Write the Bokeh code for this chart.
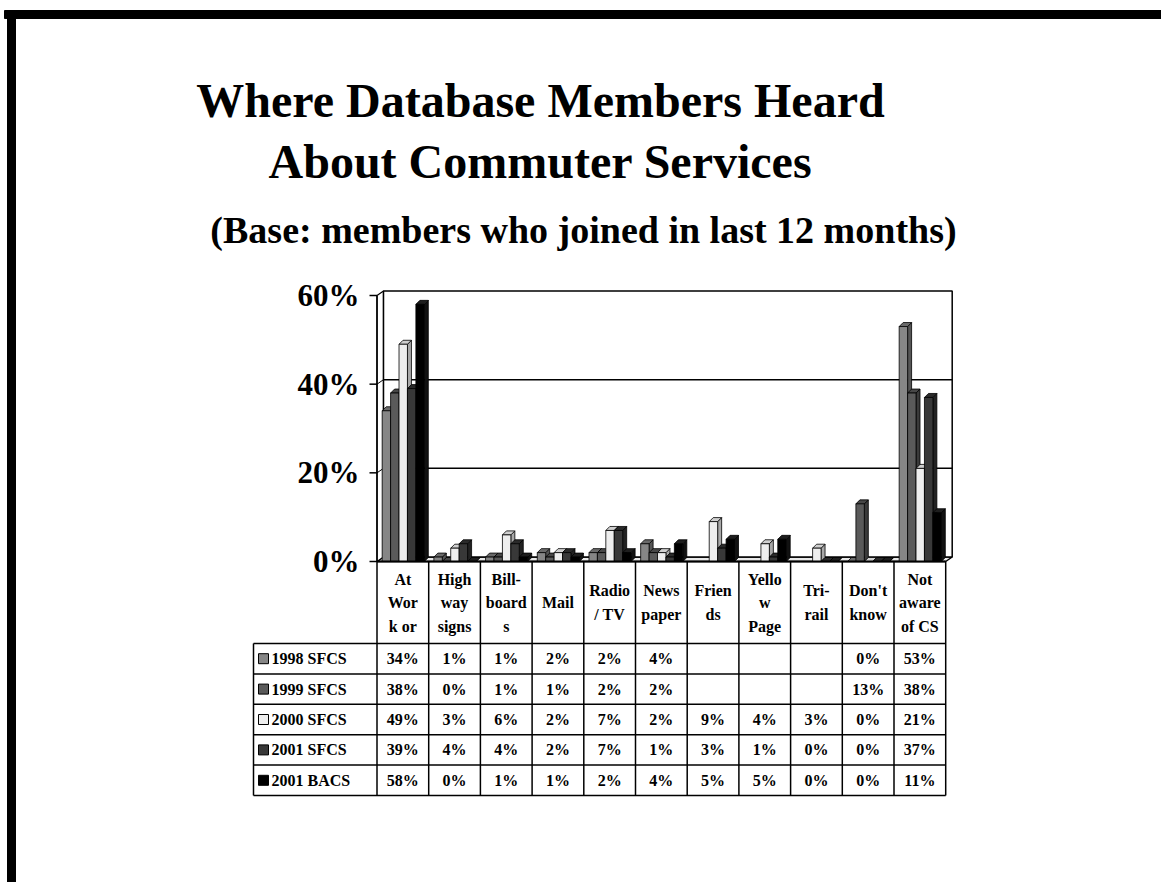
from bokeh.plotting import figure
from bokeh.models import Range1d
from bokeh.core.properties import value
from bokeh.embed import file_html
from bokeh.resources import INLINE

# ---------------- data ----------------
categories = ["At Work or", "Highway signs", "Billboards", "Mail", "Radio / TV",
              "Newspaper", "Friends", "Yellow Page", "Tri-rail", "Don't know", "Not aware of CS"]
header_lines = [["At", "Wor", "k or"], ["High", "way", "signs"], ["Bill-", "board", "s"],
                ["Mail"], ["Radio", "/ TV"], ["News", "paper"], ["Frien", "ds"],
                ["Yello", "w", "Page"], ["Tri-", "rail"], ["Don't", "know"], ["Not", "aware", "of CS"]]
series_names = ["1998 SFCS", "1999 SFCS", "2000 SFCS", "2001 SFCS", "2001 BACS"]
s1998 = [34, 1, 1, 2, 2, 4, None, None, None, 0, 53]
s1999 = [38, 0, 1, 1, 2, 2, None, None, None, 13, 38]
s2000 = [49, 3, 6, 2, 7, 2, 9, 4, 3, 0, 21]
s2001 = [39, 4, 4, 2, 7, 1, 3, 1, 0, 0, 37]
b2001 = [58, 0, 1, 1, 2, 4, 5, 5, 0, 0, 11]
series_values = [s1998, s1999, s2000, s2001, b2001]
y_ticks = [0, 20, 40, 60]

# ---------------- styling ----------------
front_colors = ["#868686", "#5a5a5a", "#eeeeee", "#383838", "#000000"]
top_colors = ["#6a6a6a", "#474747", "#cfcfcf", "#2a2a2a", "#1e1e1e"]
side_colors = ["#555555", "#3a3a3a", "#a8a8a8", "#222222", "#111111"]
FONT = value("Liberation Serif")

W, H = 1161, 882
X0, CW = 376.5, 51.7      # pixel of category 0, pixels per category
Y0, PY = 561.0, 266.0 / 60  # pixel of 0 %, pixels per percent


def px(xp):
    return (xp - X0) / CW


def py(yp):
    return (Y0 - yp) / PY


p = figure(width=W, height=H, output_backend="svg", toolbar_location=None,
           x_range=Range1d(px(0), px(W)), y_range=Range1d(py(H), py(0)),
           min_border=0, outline_line_color=None, background_fill_color="white",
           border_fill_color="white")
p.axis.visible = False
p.grid.visible = False

# ---------------- frame ----------------
p.quad(left=px(4), right=px(W + 2), top=py(10), bottom=py(18), color="black")
p.quad(left=px(7), right=px(15), top=py(10), bottom=py(H + 2), color="black")

# ---------------- titles ----------------
p.text(x=[px(540)], y=[py(100)], text=["Where Database Members Heard"], text_font=FONT,
       text_font_style="bold", text_font_size="48px", text_align="center", text_baseline="middle")
p.text(x=[px(540)], y=[py(161)], text=["About Commuter Services"], text_font=FONT,
       text_font_style="bold", text_font_size="48px", text_align="center", text_baseline="middle")
p.text(x=[px(583)], y=[py(229)], text=["(Base: members who joined in last 12 months)"], text_font=FONT,
       text_font_style="bold", text_font_size="38px", text_align="center", text_baseline="middle")

# ---------------- 3D walls ----------------
n = len(categories)
ymax = 60
DXW, DYW = 6.5 / CW, 4.5 / PY    # wall depth
# floor
p.patch([0, n, n + DXW, DXW], [0, 0, DYW, DYW], fill_color="#e8e8e8", line_color="black", line_width=1.5)
# left wall
p.patch([0, DXW, DXW, 0], [0, DYW, ymax + DYW, ymax], fill_color="white", line_color="black", line_width=1.2)
# back wall
p.patch([DXW, n + DXW, n + DXW, DXW], [DYW, DYW, ymax + DYW, ymax + DYW],
        fill_color="white", line_color="black", line_width=1.5)
# gridlines
for t in y_ticks[1:-1]:
    p.line([DXW, n + DXW], [t + DYW, t + DYW], line_color="black", line_width=1.5)
    p.line([0, DXW], [t, t + DYW], line_color="black", line_width=1)

# ---------------- bars ----------------
OFF, BW = 0.1, 0.163
DX, DY = 4.0 / CW, 4.0 / PY
for k, vals in enumerate(series_values):
    fronts, tops, sides = ([], []), ([], []), ([], [])
    for i, v in enumerate(vals):
        if v is None:
            continue
        x0 = i + OFF + k * BW
        x1 = x0 + BW
        sides[0].append([x1, x1 + DX, x1 + DX, x1]); sides[1].append([0, DY, v + DY, v])
        tops[0].append([x0, x1, x1 + DX, x0 + DX]); tops[1].append([v, v, v + DY, v + DY])
        fronts[0].append([x0, x1, x1, x0]); fronts[1].append([0, 0, v, v])
    p.patches(sides[0], sides[1], fill_color=side_colors[k], line_color="black", line_width=0.8)
    p.patches(tops[0], tops[1], fill_color=top_colors[k], line_color="black", line_width=0.8)
    p.patches(fronts[0], fronts[1], fill_color=front_colors[k], line_color="black", line_width=0.8)

# front floor edge
p.line([0, n], [0, 0], line_color="black", line_width=2)

# ---------------- y axis ----------------
p.line([0, 0], [0, ymax], line_color="black", line_width=1.5)
for t in y_ticks:
    p.line([px(369), 0], [t, t], line_color="black", line_width=1.5)
p.text(x=[px(359)] * len(y_ticks), y=y_ticks, text=[f"{t}%" for t in y_ticks], text_font=FONT,
       text_font_style="bold", text_font_size="31px", text_align="right", text_baseline="middle")

# ---------------- data table ----------------
TL = 253              # table left pixel
HEAD_TOP, HEAD_BOT = 561, 643
ROW_H = 30.4
nrows = len(series_names)
row_lines = [HEAD_BOT + ROW_H * r for r in range(nrows + 1)]
tbl_bottom = row_lines[-1]

for j in range(n + 1):
    p.line([j, j], [py(HEAD_TOP), py(tbl_bottom)], line_color="black", line_width=1.5)
p.line([px(TL), px(TL)], [py(HEAD_BOT), py(tbl_bottom)], line_color="black", line_width=1.5)
for yl in row_lines:
    p.line([px(TL), n], [py(yl), py(yl)], line_color="black", line_width=1.5)

# header labels
LH = 23.5
hx, hy, ht = [], [], []
for i, lines in enumerate(header_lines):
    m = len(lines)
    for li, s in enumerate(lines):
        hx.append(i + 0.5)
        hy.append(py(602 + (li - (m - 1) / 2) * LH))
        ht.append(s)
p.text(x=hx, y=hy, text=ht, text_font=FONT, text_font_style="bold", text_font_size="16px",
       text_align="center", text_baseline="middle")

# cell values
cx, cy, ct = [], [], []
for r, vals in enumerate(series_values):
    yc = py(HEAD_BOT + ROW_H * (r + 0.5))
    for i, v in enumerate(vals):
        if v is None:
            continue
        cx.append(i + 0.5)
        cy.append(yc)
        ct.append(f"{v}%")
p.text(x=cx, y=cy, text=ct, text_font=FONT, text_font_style="bold", text_font_size="16px",
       text_align="center", text_baseline="middle")

# legend keys
for r, name in enumerate(series_names):
    yc = HEAD_BOT + ROW_H * (r + 0.5)
    p.quad(left=px(258), right=px(268), bottom=py(yc + 5), top=py(yc - 5),
           fill_color=front_colors[r], line_color="black", line_width=1)
p.text(x=[px(271)] * nrows, y=[py(HEAD_BOT + ROW_H * (r + 0.5)) for r in range(nrows)],
       text=series_names, text_font=FONT, text_font_style="bold", text_font_size="16px",
       text_align="left", text_baseline="middle")

open("out.html", "w").write(file_html(p, INLINE))
